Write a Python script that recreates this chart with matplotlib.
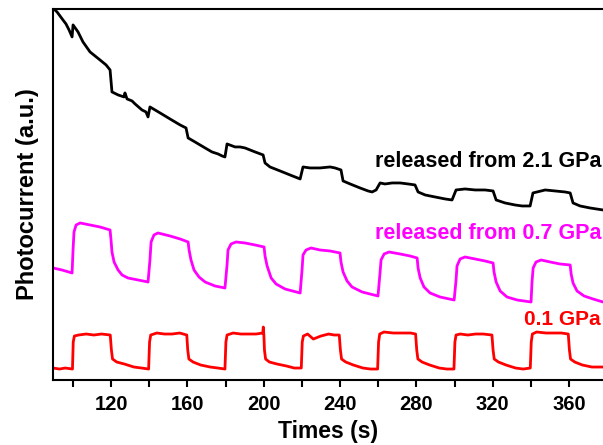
import matplotlib
matplotlib.use('Agg')
import matplotlib.pyplot as plt
from matplotlib.ticker import MultipleLocator

plt.rcParams['font.family'] = ['Liberation Sans', 'DejaVu Sans']
plt.rcParams['font.weight'] = 'bold'

# photocurrent traces, (time in s, current in a.u.)
black = [(90.6, 370), (91.7, 368), (94.8, 360), (96.4, 356), (98.0, 350), (99.6, 343),
         (100.1, 355), (102.7, 348), (105.3, 338), (109.0, 328), (114.2, 320), (117.4, 315),
         (119.5, 310), (120.5, 288), (123.7, 285), (126.8, 283), (127.3, 287), (128.4, 281),
         (131.0, 279), (132.6, 276), (136.2, 270), (138.3, 268), (139.4, 263), (140.4, 273),
         (145.7, 267), (150.9, 261), (156.2, 255), (159.3, 252), (160.4, 242), (164.0, 238),
         (169.3, 232), (172.9, 228), (176.1, 226), (178.2, 224), (179.7, 223), (180.8, 236),
         (185.0, 233), (187.6, 233), (190.2, 232), (195.5, 228), (199.7, 225), (200.7, 217),
         (203.3, 213), (208.6, 209), (213.8, 205), (219.1, 201), (220.6, 213), (224.3, 212),
         (229.5, 212), (234.8, 213), (237.4, 212), (240.5, 210), (241.6, 199), (245.3, 196),
         (250.5, 192), (254.7, 189), (256.8, 188), (258.9, 190), (261.0, 197), (263.6, 196),
         (267.3, 197), (271.5, 197), (275.7, 196), (279.3, 195), (280.9, 188), (284.6, 185),
         (289.8, 183), (295.1, 181), (298.7, 180), (300.8, 190), (305.5, 191), (310.8, 190),
         (316.0, 190), (320.2, 189), (321.8, 180), (326.5, 177), (331.7, 175), (335.4, 174),
         (339.6, 174), (341.1, 187), (347.5, 190), (352.7, 189), (357.9, 188), (360.6, 187),
         (362.1, 177), (365.8, 174), (371.0, 172), (377.8, 170)]

magenta = [(89.6, 112), (94.3, 110), (99.6, 107),
           (100.1, 130), (100.6, 148), (101.7, 155), (103.8, 157),
           (109.0, 155), (114.2, 153), (119.5, 150),
           (120.0, 140), (120.5, 128), (121.6, 118), (123.7, 110), (125.8, 105), (128.9, 102),
           (134.2, 100), (139.4, 98),
           (140.4, 120), (141.0, 138), (142.5, 145), (144.6, 147),
           (150.9, 144), (156.2, 141), (160.4, 138),
           (160.9, 130), (161.9, 120), (163.5, 110), (166.1, 103), (169.3, 98), (174.5, 94),
           (179.7, 92),
           (180.8, 115), (181.3, 130), (182.9, 136), (185.5, 138),
           (190.2, 137), (195.5, 135), (200.2, 133),
           (200.7, 124), (201.8, 114), (203.9, 102), (206.5, 96), (211.2, 91), (219.1, 87),
           (220.1, 110), (220.6, 125), (222.2, 130), (224.8, 132),
           (229.5, 130), (234.8, 129), (240.0, 127),
           (240.5, 118), (241.6, 108), (243.7, 99), (246.3, 93), (251.6, 88), (259.9, 84),
           (261.0, 108), (261.5, 120), (263.1, 126), (265.7, 128),
           (271.5, 126), (276.7, 124), (280.4, 122),
           (280.9, 112), (282.0, 102), (284.0, 93), (287.2, 87), (292.4, 83), (299.8, 80),
           (300.8, 100), (301.3, 114), (302.9, 121), (305.5, 123),
           (310.8, 121), (316.0, 119), (320.2, 117),
           (320.7, 108), (321.8, 98), (323.9, 89), (327.5, 83), (332.8, 80), (340.1, 78),
           (340.6, 98), (341.2, 112), (342.7, 118), (345.4, 120),
           (350.1, 118), (355.3, 116), (360.6, 115),
           (361.1, 106), (362.1, 97), (364.2, 89), (367.9, 84), (372.6, 81), (377.8, 78)]

red = [(89.6, 12), (93, 11), (96, 12), (99.8, 11),
       (100.2, 38), (100.8, 44), (103, 45), (107, 46), (111, 45), (115, 46), (119.6, 45),
       (120.2, 30), (120.8, 21), (123, 18), (127, 16), (132, 13), (136, 12), (139.7, 11),
       (140.2, 38), (140.8, 45), (144, 47), (148, 46), (152, 46), (156, 47), (159.7, 45),
       (160.2, 30), (160.8, 21), (163, 18), (167, 15), (172, 13), (176, 12), (179.7, 11),
       (180.2, 38), (180.8, 45), (184, 47), (188, 46), (192, 46), (196, 46), (199.5, 47),
       (199.8, 53), (200.1, 45),
       (200.4, 30), (201, 21), (203, 18), (207, 16), (212, 14), (216, 12), (219.7, 12),
       (220.2, 38), (220.8, 44), (223, 46), (226, 41), (230, 44), (234, 46), (237, 45),
       (239.6, 45),
       (240.2, 30), (240.8, 21), (243, 18), (247, 15), (252, 12), (256, 11), (259.7, 11),
       (260.2, 38), (260.8, 46), (263, 48), (268, 47), (273, 47), (277, 47), (279.6, 46),
       (280.2, 30), (280.8, 21), (283, 18), (287, 15), (292, 12), (296, 11), (299.7, 11),
       (300.2, 38), (300.8, 45), (303, 46), (307, 45), (311, 46), (315, 46), (319.6, 45),
       (320.2, 30), (320.8, 21), (323, 18), (327, 15), (332, 12), (336, 11), (339.7, 12),
       (340.2, 38), (340.8, 46), (343, 48), (348, 47), (352, 47), (356, 47), (359.6, 46),
       (360.2, 30), (360.8, 21), (363, 18), (367, 15), (372, 13), (377.8, 13)]

# (points, colour, label, label baseline, label size)
series = [
    (black, 'black', 'released from 2.1 GPa', 213, 15.5),
    (magenta, '#ff00ff', 'released from 0.7 GPa', 141, 15.5),
    (red, '#ff0000', '0.1 GPa', 55, 15),
]

fig = plt.figure(figsize=(6.03, 4.45), dpi=100)
ax = fig.add_axes([0.0879, 0.146, 0.9121, 0.834])

for pts, color, label, ytxt, size in series:
    t = [p[0] for p in pts]
    v = [p[1] for p in pts]
    ax.plot(t, v, color=color, linewidth=2.0, solid_joinstyle='round')
    ax.text(376.8, ytxt, label, color=color, fontsize=size, fontweight='bold',
            ha='right', va='baseline')

ax.set_xlim(89.6, 377.8)
ax.set_ylim(0, 371)
ax.xaxis.set_minor_locator(MultipleLocator(20))
ax.set_xticks(range(120, 361, 40))
ax.set_yticks([])
ax.tick_params(axis='x', which='both', direction='out', length=5, width=1.5,
               labelsize=14.5, top=False, pad=6)
for lab in ax.get_xticklabels():
    lab.set_fontweight('bold')
ax.spines['right'].set_visible(False)
for s in ['left', 'top', 'bottom']:
    ax.spines[s].set_linewidth(1.5)

ax.set_xlabel('Times (s)', fontsize=16.5, fontweight='bold', labelpad=4)
ax.set_ylabel('Photocurrent (a.u.)', fontsize=17, fontweight='bold', labelpad=10)

fig.savefig('out.png', dpi=100)
